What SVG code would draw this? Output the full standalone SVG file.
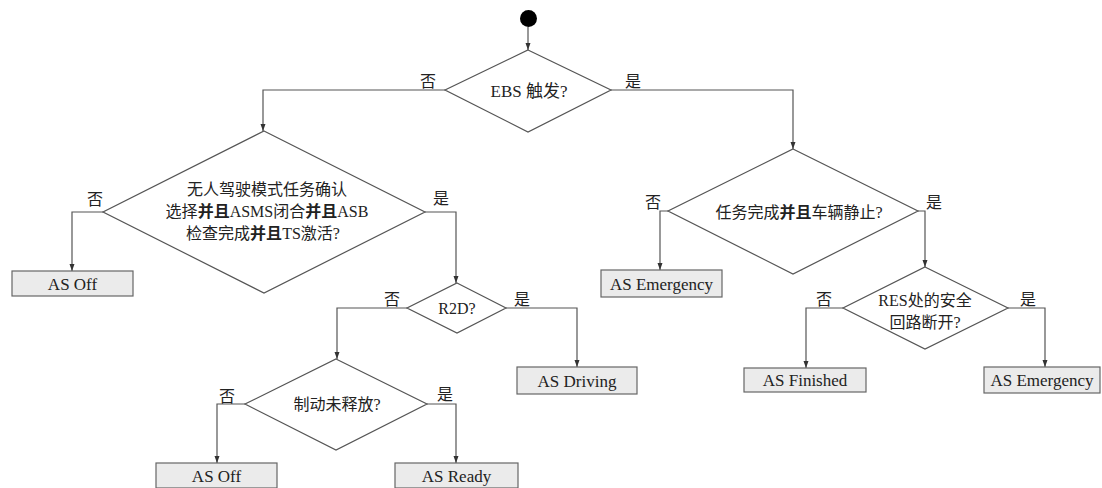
<svg xmlns="http://www.w3.org/2000/svg" width="1102" height="488" viewBox="0 0 1102 488">
<style>
.d{fill:#fff;stroke:#555;stroke-width:1.2}
.b{fill:#ebebeb;stroke:#666;stroke-width:1.2}
.c{fill:none;stroke:#555;stroke-width:1.2}
text{font-family:"Liberation Serif","Noto Sans CJK SC",serif;fill:#222;text-anchor:middle;dominant-baseline:central}
.t{font-size:16px}
.bt{font-size:17px}
.l{font-size:16px}
.k{font-weight:bold}
</style>
<defs>
<marker id="ah" markerWidth="8" markerHeight="8" refX="7" refY="4" orient="auto" markerUnits="userSpaceOnUse">
<path d="M0,1.5 L7,4 L0,6.5 Z" fill="#333"/>
</marker>
</defs>
<g id="connectors">
<path class="c" d="M528,27 V50" marker-end="url(#ah)"/>
<path class="c" d="M445,90 H263 V131" marker-end="url(#ah)"/>
<path class="c" d="M611,90 H793 V149" marker-end="url(#ah)"/>
<path class="c" d="M103,212 H72 V271" marker-end="url(#ah)"/>
<path class="c" d="M425,212 H456 V283" marker-end="url(#ah)"/>
<path class="c" d="M407,308 H337 V359" marker-end="url(#ah)"/>
<path class="c" d="M506,308 H577 V367" marker-end="url(#ah)"/>
<path class="c" d="M245,404 H217 V463" marker-end="url(#ah)"/>
<path class="c" d="M427,404 H456 V463" marker-end="url(#ah)"/>
<path class="c" d="M668,211 H660 V270" marker-end="url(#ah)"/>
<path class="c" d="M918,211 H925 V267" marker-end="url(#ah)"/>
<path class="c" d="M843,308 H806 V368" marker-end="url(#ah)"/>
<path class="c" d="M1008,308 H1045 V367" marker-end="url(#ah)"/>
<text class="l" x="428" y="81">否</text>
<text class="l" x="633" y="81">是</text>
<text class="l" x="95" y="199">否</text>
<text class="l" x="441" y="198">是</text>
<text class="l" x="392" y="299">否</text>
<text class="l" x="522" y="299">是</text>
<text class="l" x="227" y="396">否</text>
<text class="l" x="445" y="394">是</text>
<text class="l" x="653" y="202">否</text>
<text class="l" x="934" y="202">是</text>
<text class="l" x="824" y="299">否</text>
<text class="l" x="1028" y="299">是</text>
</g>
<g id="start">
<circle cx="528.5" cy="18.5" r="8.5" fill="#000"/>
</g>
<g id="ebs">
<polygon class="d" points="528,50 611,90 528,132 445,90"/>
<text class="t" x="529" y="91" style="font-size:17px">EBS 触发?</text>
</g>
<g id="mission">
<polygon class="d" points="264,131 425,212 264,293 103,212"/>
<text class="t" x="267" y="189">无人驾驶模式任务确认</text>
<text class="t" x="267" y="211">选择<tspan class="k">并且</tspan>ASMS闭合<tspan class="k">并且</tspan>ASB</text>
<text class="t" x="263" y="233">检查完成<tspan class="k">并且</tspan>TS激活?</text>
</g>
<g id="asoff1">
<rect class="b" x="12" y="271" width="121" height="25"/>
<text class="bt" x="72.5" y="284">AS Off</text>
</g>
<g id="r2d">
<polygon class="d" points="457,283 506,308 457,333 407,308"/>
<text class="t" x="457" y="308">R2D?</text>
</g>
<g id="asdriving">
<rect class="b" x="517" y="367" width="120" height="27"/>
<text class="bt" x="577" y="381">AS Driving</text>
</g>
<g id="brake">
<polygon class="d" points="336,359 427,404 336,450 245,404"/>
<text class="t" x="337" y="404">制动未释放?</text>
</g>
<g id="asoff2">
<rect class="b" x="156" y="463" width="121" height="25"/>
<text class="bt" x="216.5" y="476">AS Off</text>
</g>
<g id="asready">
<rect class="b" x="395" y="463" width="123" height="25"/>
<text class="bt" x="456.5" y="476">AS Ready</text>
</g>
<g id="finished">
<polygon class="d" points="793,149 918,211 793,274 668,211"/>
<text class="t" x="799" y="212">任务完成<tspan class="k">并且</tspan>车辆静止?</text>
</g>
<g id="asemergency1">
<rect class="b" x="601" y="270" width="121" height="27"/>
<text class="bt" x="661.5" y="284">AS Emergency</text>
</g>
<g id="res">
<polygon class="d" points="925,267 1008,308 925,349 843,308"/>
<text class="t" x="925" y="300">RES处的安全</text>
<text class="t" x="925" y="322">回路断开?</text>
</g>
<g id="asfinished">
<rect class="b" x="744" y="368" width="122" height="24"/>
<text class="bt" x="805" y="380">AS Finished</text>
</g>
<g id="asemergency2">
<rect class="b" x="984" y="367" width="116" height="26"/>
<text class="bt" x="1042" y="380">AS Emergency</text>
</g>
</svg>
